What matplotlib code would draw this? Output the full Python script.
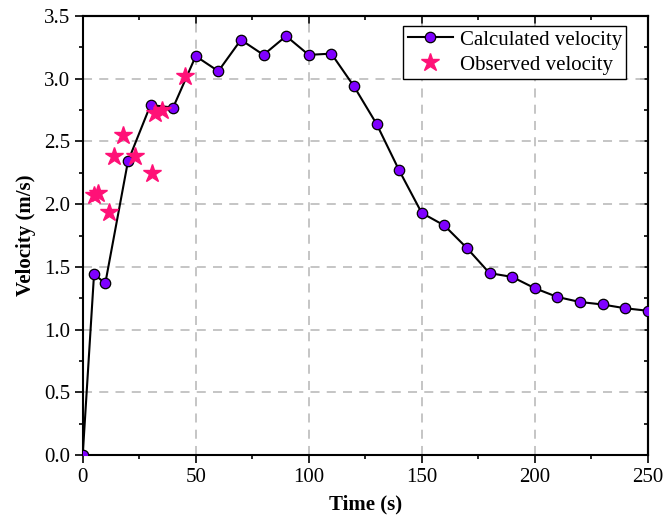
import matplotlib
matplotlib.use("Agg")
import matplotlib.pyplot as plt
from matplotlib.ticker import MultipleLocator, FormatStrFormatter

plt.rcParams['font.family'] = ['Liberation Serif', 'DejaVu Serif']
plt.rcParams['mathtext.fontset'] = 'stix'

calc_t = [0, 5, 10, 20, 30, 40, 50, 60, 70, 80, 90, 100, 110, 120, 130, 140,
          150, 160, 170, 180, 190, 200, 210, 220, 230, 240, 250]
calc_v = [0.0, 1.44, 1.37, 2.34, 2.79, 2.77, 3.18, 3.06, 3.31, 3.19, 3.34, 3.19,
          3.20, 2.94, 2.64, 2.27, 1.93, 1.83, 1.65, 1.45, 1.42, 1.33, 1.26, 1.22,
          1.20, 1.17, 1.15]

obs_t = [5.0, 6.9, 11.8, 13.9, 18.0, 23.1, 30.8, 32.0, 35.0, 45.3]
obs_v = [2.07, 2.09, 1.94, 2.38, 2.55, 2.38, 2.25, 2.73, 2.75, 3.02]

FS = 15

fig = plt.figure(figsize=(6.65, 5.16), dpi=100)
ax = fig.add_axes([0.1244, 0.1182, 0.8496, 0.8508])

ax.plot(calc_t, calc_v, '-o', color='black', lw=1.5, marker='o', ms=7.5,
        mfc='#7f00ff', mec='black', mew=0.9, label='Calculated velocity', zorder=3)
ax.plot(obs_t, obs_v, linestyle='none', marker='*', ms=13.5, color='#ff1177',
        mec='#ff1177', label='Observed velocity', zorder=4)

ax.set_xlim(0, 250)
ax.set_ylim(0, 3.5)
ax.xaxis.set_major_locator(MultipleLocator(50))
ax.xaxis.set_minor_locator(MultipleLocator(25))
ax.yaxis.set_major_locator(MultipleLocator(0.5))
ax.yaxis.set_minor_locator(MultipleLocator(0.25))
ax.yaxis.set_major_formatter(FormatStrFormatter('%.1f'))

ax.grid(True, which='major', linestyle=(0, (5, 4)), color='#c0c0c0', lw=1.3)
ax.set_axisbelow(True)

ax.tick_params(which='both', direction='out', labelsize=FS, width=1.2, pad=3.5)
ax.tick_params(which='major', length=5.5)
ax.tick_params(which='minor', length=3)

for s in ax.spines.values():
    s.set_linewidth(1.5)

# inward ticks on top and right
for side in ('top', 'right'):
    if side == 'top':
        sec = ax.secondary_xaxis('top')
        sec.xaxis.set_major_locator(MultipleLocator(50))
        sec.xaxis.set_minor_locator(MultipleLocator(25))
    else:
        sec = ax.secondary_yaxis('right')
        sec.yaxis.set_major_locator(MultipleLocator(0.5))
        sec.yaxis.set_minor_locator(MultipleLocator(0.25))
    sec.tick_params(which='both', direction='in', labelleft=False, labelright=False,
                    labeltop=False, labelbottom=False, width=1.2)
    sec.tick_params(which='major', length=5.5)
    sec.tick_params(which='minor', length=3)
    for s in sec.spines.values():
        s.set_linewidth(1.5)

ax.set_xlabel('Time (s)', fontsize=FS, fontweight='bold', labelpad=6)
ax.set_ylabel('Velocity (m/s)', fontsize=FS, fontweight='bold', labelpad=6)

leg = ax.legend(loc='upper right', bbox_to_anchor=(626 / 665, 1 - 26 / 516),
                bbox_transform=fig.transFigure, fontsize=FS, frameon=True,
                fancybox=False, edgecolor='black', borderpad=0.2,
                handlelength=2.2, handletextpad=0.3, labelspacing=0.25,
                borderaxespad=0)
leg.get_frame().set_linewidth(1.0)
leg.get_frame().set_alpha(1)

fig.savefig('out.png', dpi=100)
